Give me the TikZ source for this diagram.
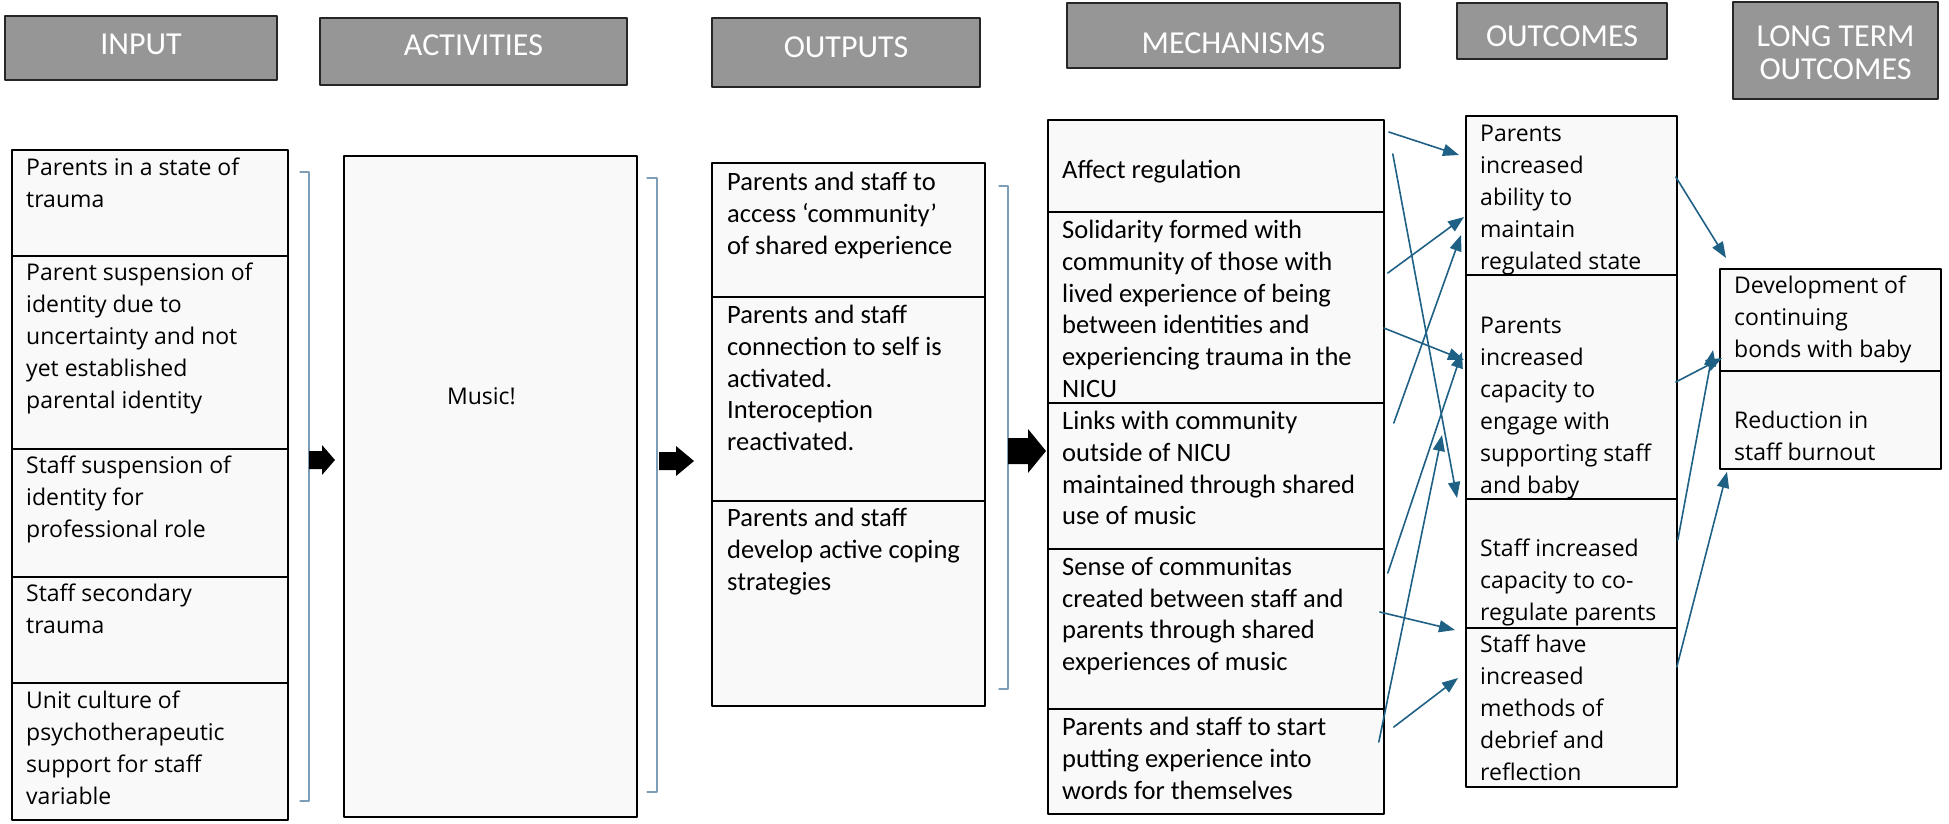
\documentclass[tikz,border=0pt]{standalone}
\usepackage{fontspec}
\setmainfont{Open Sans}
\newfontfamily\narrowfont{Carlito}
\usetikzlibrary{arrows.meta}

\definecolor{headgray}{RGB}{150,150,150}
\definecolor{cellfill}{RGB}{249,249,249}
\definecolor{linkblue}{RGB}{31,97,133}
\definecolor{bracketblue}{RGB}{125,158,182}

\begin{document}
\begin{tikzpicture}[x=1pt,y=-1pt,line cap=round,line join=round,>={Triangle[length=16pt,width=12pt]},
    head/.style={draw=black!85,line width=1.2pt,fill=headgray,inner sep=0pt},
    headtxt/.style={text=white,font=\narrowfont\fontsize{32}{33}\selectfont,align=center,inner sep=0pt},
    cell/.style={draw=black,line width=1.8pt,fill=cellfill,inner sep=0pt,anchor=north west},
    widetxt/.style={font=\fontsize{23}{32}\selectfont,align=left,inner sep=0pt,anchor=north west},
    narrowtxt/.style={font=\narrowfont\fontsize{26.5}{31.7}\selectfont,align=left,inner sep=0pt,anchor=north west},
    link/.style={->,draw=linkblue,line width=1.6pt},
    bracket/.style={draw=bracketblue,line width=1.3pt}]

\useasboundingbox (0,0) rectangle (1949,823);

% column headers
\foreach \nm/\xa/\ya/\xb/\yb/\dy/\txt in {hInput/5/16/277/80/-4/INPUT,
        hActivities/320/18/627/85/-6/ACTIVITIES,
        hOutputs/712/18/980/87/-5/OUTPUTS,
        hMech/1067/3/1400/68/8/MECHANISMS,
        hOutcomes/1457/3/1667/59/5/OUTCOMES,
        hLong/1733/2/1938/99/2/{LONG TERM\\OUTCOMES}} {
    \node[head,minimum width=\xb-\xa,minimum height=\yb-\ya] (\nm) at ({(\xa+\xb)/2},{(\ya+\yb)/2}) {};
    \node[headtxt] (\nm-t) at ([shift={(0,\dy)}]\nm.center) {\txt};
}

% input
\foreach \nm/\ya/\yb/\dy/\txt in {inTrauma/149/255/9/{Parents in a state of\\trauma},
        inParent/255/448/8/{Parent suspension of\\identity due to\\uncertainty and not\\yet established\\parental identity},
        inStaffId/448/576/8/{Staff suspension of\\identity for\\professional role},
        inSecondary/576/682/8/{Staff secondary\\trauma},
        inCulture/682/819/9/{Unit culture of\\psychotherapeutic\\support for staff\\variable}} {
    \node[cell,minimum width=276,minimum height=\yb-\ya] (\nm) at (11,\ya) {};
    \node[widetxt] (\nm-t) at ([shift={(15,\dy)}]\nm.north west) {\txt};
}

% activities
\node[cell,minimum width=293,minimum height=661] (music) at (343,155) {};
\node[widetxt,anchor=north] (music-t) at ([shift={(-9,232)}]music.north) {Music!};

% outputs
\foreach \nm/\ya/\yb/\dy/\txt in {outCommunity/162/296/10/{Parents and staff to\\access ‘community’\\of shared experience},
        outSelf/296/500/9/{Parents and staff\\connection to self is\\activated.\\Interoception\\reactivated.},
        outCoping/500/705/8/{Parents and staff\\develop active coping\\strategies}} {
    \node[cell,minimum width=273,minimum height=\yb-\ya] (\nm) at (711,\ya) {};
    \node[narrowtxt] (\nm-t) at ([shift={(16,\dy)}]\nm.north west) {\txt};
}

% mechanisms
\foreach \nm/\ya/\yb/\dy/\txt in {mAffect/119/211/41/{Affect regulation},
        mSolidarity/211/402/9/{Solidarity formed with\\community of those with\\lived experience of being\\between identities and\\experiencing trauma in the\\NICU},
        mLinks/402/548/9/{Links with community\\outside of NICU\\maintained through shared\\use of music},
        mCommunitas/548/708/9/{Sense of communitas\\created between staff and\\parents through shared\\experiences of music},
        mWords/708/813/9/{Parents and staff to start\\putting experience into\\words for themselves}} {
    \node[cell,minimum width=336,minimum height=\yb-\ya] (\nm) at (1047,\ya) {};
    \node[narrowtxt] (\nm-t) at ([shift={(15,\dy)}]\nm.north west) {\txt};
}

% outcomes
\foreach \nm/\ya/\yb/\dy/\txt in {ocRegulated/115/274/10/{Parents\\increased\\ability to\\maintain\\regulated state},
        ocEngage/274/498/43/{Parents\\increased\\capacity to\\engage with\\supporting staff\\and baby},
        ocCoreg/498/627/41/{Staff increased\\capacity to co-\\regulate parents},
        ocDebrief/627/786/8/{Staff have\\increased\\methods of\\debrief and\\reflection}} {
    \node[cell,minimum width=211,minimum height=\yb-\ya] (\nm) at (1465,\ya) {};
    \node[widetxt] (\nm-t) at ([shift={(15,\dy)}]\nm.north west) {\txt};
}

% long term outcomes
\foreach \nm/\ya/\yb/\dy/\txt in {ltBonds/268/370/8/{Development of\\continuing\\bonds with baby},
        ltBurnout/370/468/41/{Reduction in\\staff burnout}} {
    \node[cell,minimum width=221,minimum height=\yb-\ya] (\nm) at (1719,\ya) {};
    \node[widetxt] (\nm-t) at ([shift={(15,\dy)}]\nm.north west) {\txt};
}

% brackets
\draw[bracket] (300,172) -- (309,172) -- (309,801) -- (300,801);
\draw[bracket] (647,178) -- (657,178) -- (657,792) -- (647,792);
\draw[bracket] (999,186) -- (1008,186) -- (1008,689) -- (999,689);

% block arrows
\foreach \xa/\xm/\xb/\yc/\hh/\sh in {309/322/335/460/15/9, 659/676/694/461/15/9, 1008/1028/1046/451/22/13} {
    \fill[black] (\xa,\yc-\sh) -- (\xm,\yc-\sh) -- (\xm,\yc-\hh) -- (\xb,\yc)
        -- (\xm,\yc+\hh) -- (\xm,\yc+\sh) -- (\xa,\yc+\sh) -- cycle;
}

% mechanisms -> outcomes
\draw[link] ([shift={(4,13)}]mAffect.north east) -- ([shift={(-6,40)}]ocRegulated.north west);
\draw[link] ([shift={(8,35)}]mAffect.north east) -- ([shift={(-8,0)}]ocCoreg.north west);
\draw[link] ([shift={(3,62)}]mSolidarity.north east) -- ([shift={(-1,102)}]ocRegulated.north west);
\draw[link] ([shift={(-1,117)}]mSolidarity.north east) -- ([shift={(-1,86)}]ocEngage.north west);
\draw[link] ([shift={(9,21)}]mLinks.north east) -- ([shift={(-4,120)}]ocRegulated.north west);
\draw[link] ([shift={(3,25)}]mCommunitas.north east) -- ([shift={(-3,78)}]ocEngage.north west);
\draw[link] ([shift={(-6,34)}]mWords.north east) -- ([shift={(-23,161)}]ocEngage.north west);
\draw[link] ([shift={(-5,64)}]mCommunitas.north east) -- ([shift={(-10,3)}]ocDebrief.north west);
\draw[link] ([shift={(9,19)}]mWords.north east) -- ([shift={(-7,51)}]ocDebrief.north west);

% outcomes -> long term
\draw[link] ([shift={(-2,62)}]ocRegulated.north east) -- ([shift={(7,-10)}]ltBonds.north west);
\draw[link] ([shift={(-2,108)}]ocEngage.north east) -- ([shift={(3,90)}]ltBonds.north west);
\draw[link] ([shift={(0,42)}]ocCoreg.north east) -- ([shift={(-6,82)}]ltBonds.north west);
\draw[link] ([shift={(-1,40)}]ocDebrief.north east) -- ([shift={(8,2)}]ltBurnout.south west);

\end{tikzpicture}
\end{document}
